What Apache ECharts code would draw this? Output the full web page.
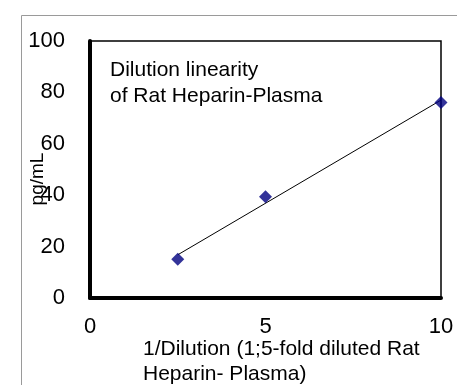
<!DOCTYPE html>
<html><head><meta charset="utf-8">
<script src="https://cdn.jsdelivr.net/npm/echarts@6/dist/echarts.min.js"></script>
<style>html,body{margin:0;padding:0;background:#fff}#c{width:457px;height:385px}</style>
</head><body><div id="c"></div>
<script>
const dilutionX = [2.5, 5, 10];
const concentration = [15.1, 39.4, 76.1];
const trendX = [2.5, 10];
const trendY = [16.8, 77.0];
const xTicks = [0, 5, 10];
const yTicks = [0, 20, 40, 60, 80, 100];
const annotation = ['Dilution linearity', 'of Rat Heparin-Plasma'];
const xTitle = ['1/Dilution (1;5-fold diluted Rat', 'Heparin- Plasma)'];
const yTitle = 'pg/mL';

const font = 'Liberation Sans, Arial, sans-serif';
const chart = echarts.init(document.getElementById('c'), null, {renderer: 'canvas'});
chart.setOption({
  animation: false,
  backgroundColor: '#fff',
  grid: {left: 90, right: 16, top: 41, bottom: 87, show: true, borderColor: '#000', borderWidth: 1.5, backgroundColor: 'transparent'},
  xAxis: {
    type: 'value', min: xTicks[0], max: xTicks[xTicks.length - 1], interval: 5,
    axisLine: {show: true, lineStyle: {color: '#000', width: 4}},
    axisTick: {show: false}, splitLine: {show: false},
    axisLabel: {color: '#000', fontSize: 22, fontFamily: font, margin: 18}
  },
  yAxis: {
    type: 'value', min: yTicks[0], max: yTicks[yTicks.length - 1], interval: 20,
    axisLine: {show: true, lineStyle: {color: '#000', width: 4}},
    axisTick: {show: false}, splitLine: {show: false},
    axisLabel: {color: '#000', fontSize: 22, fontFamily: font, margin: 25}
  },
  graphic: [
    {type: 'rect', left: 19, top: 13, shape: {x: 0, y: 0, width: 460, height: 400}, style: {fill: 'none', stroke: '#9a9a9a', lineWidth: 1}, silent: true, z: -1},
    {type: 'text', left: 110, top: 57, style: {text: annotation.join('\n'), font: '21px ' + font, fill: '#000', lineHeight: 26}},
    {type: 'text', left: 143, top: 337, style: {text: xTitle.join('\n'), font: '21px ' + font, fill: '#000', lineHeight: 25}},
    {type: 'text', x: 38, y: 179, rotation: Math.PI / 2, style: {text: yTitle, font: '19px ' + font, fill: '#000', textAlign: 'center', textVerticalAlign: 'middle'}}
  ],
  series: [
    {type: 'line', data: trendX.map((x, i) => [x, trendY[i]]), showSymbol: false, symbol: 'none', lineStyle: {color: '#000', width: 1}, z: 2},
    {type: 'scatter', data: dilutionX.map((x, i) => [x, concentration[i]]), symbol: 'diamond', symbolSize: 13, itemStyle: {color: '#000080'}, z: 3}
  ]
});
</script></body></html>
